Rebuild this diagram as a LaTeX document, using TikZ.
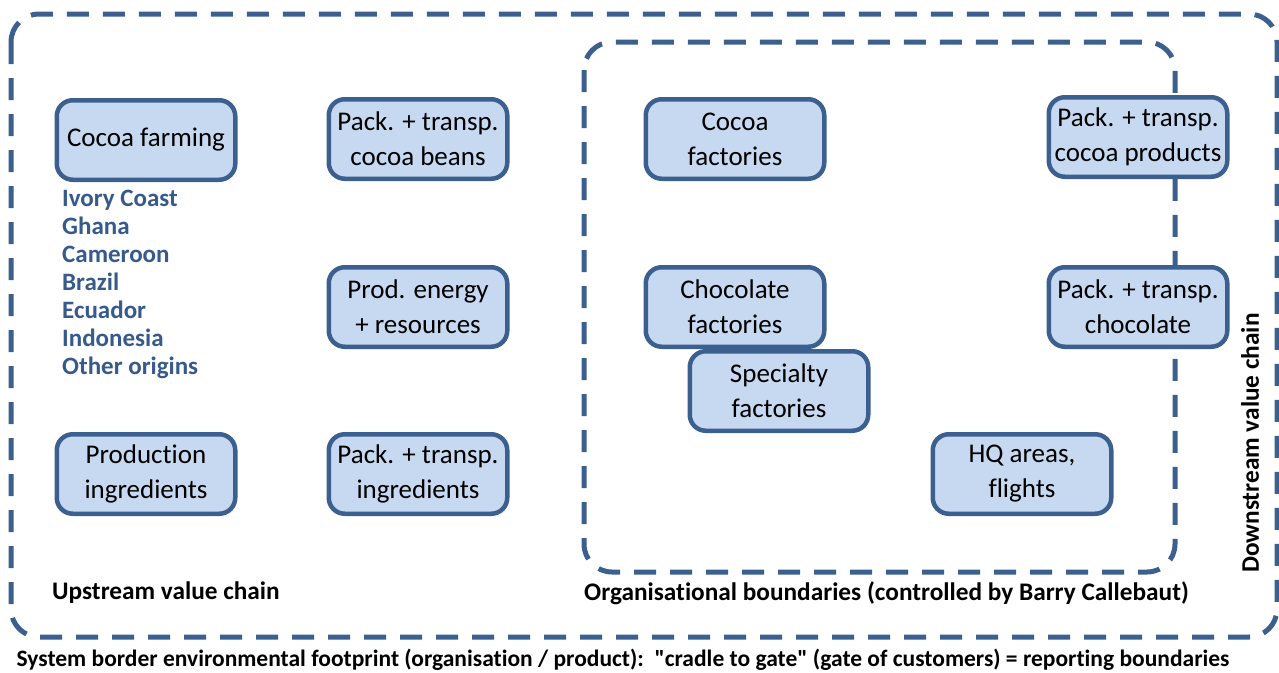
\documentclass[tikz,border=0pt]{standalone}
\usepackage{fontspec}
\setmainfont[Ligatures={TeX,NoCommon}]{Carlito}
\definecolor{bord}{HTML}{3B5F8F}
\definecolor{boxfill}{HTML}{C6D9F1}
\definecolor{origin}{HTML}{365A8C}
\begin{document}
\begin{tikzpicture}[x=1pt,y=-1pt,
  boundary/.style={draw=bord,line width=5pt,dash pattern=on 22pt off 14pt,rounded corners=28pt},
  stage/.style={draw=bord,fill=boxfill,line width=4.5pt,rounded corners=16pt,
    minimum width=178.5pt,minimum height=79.5pt,inner sep=0pt,align=center,
    font=\fontsize{27}{35}\selectfont},
  caption/.style={font=\bfseries\fontsize{25.3}{30}\selectfont,inner sep=0pt},
]
\useasboundingbox (0,0) rectangle (1279,672);

% system border and organisational boundary
\draw[boundary] (11,14) rectangle (1277,637);
\draw[boundary] (584,42) rectangle (1175,572);

% upstream stages
\node[stage] (farm) at (146,140) {Cocoa farming};
\node[stage] (beans) at (418,139) {Pack. + transp.\\cocoa beans};
\node[stage] (energy) at (418,307) {Prod. energy\\+ resources};
\node[stage] (ingr) at (146,474) {Production\\ingredients};
\node[stage] (ingrtr) at (418,474) {Pack. + transp.\\ingredients};

% origins of cocoa
\node[anchor=west,align=left,text=origin,inner sep=0pt,
  font=\bfseries\fontsize{25}{28}\selectfont] (origins) at (62,284)
  {Ivory Coast\\Ghana\\Cameroon\\Brazil\\Ecuador\\Indonesia\\Other origins};

% stages within the organisation
\node[stage] (cocoaf) at (735,139) {Cocoa\\factories};
\node[stage] (chocf) at (735,307) {Chocolate\\factories};
\node[stage] (specf) at (779,391) {Specialty\\factories};
\node[stage] (hq) at (1022,474) {HQ areas,\\flights};

% downstream transport
\node[stage] (prodtr) at (1138,137) {Pack. + transp.\\cocoa products};
\node[stage] (choctr) at (1138,307) {Pack. + transp.\\chocolate};

% captions
\node[caption,anchor=west] (up) at (52,593) {Upstream value chain};
\node[caption,anchor=west] (org) at (584,593) {Organisational boundaries (controlled by Barry Callebaut)};
\node[caption,rotate=90] (down) at (1250,443) {Downstream value chain};
\node[font=\bfseries\fontsize{23.5}{28}\selectfont,inner sep=0pt] (sys) at (623,660)
  {System border environmental footprint (organisation / product):~~\textquotedbl cradle to gate\textquotedbl{} (gate of customers) = reporting boundaries};
\end{tikzpicture}
\end{document}
